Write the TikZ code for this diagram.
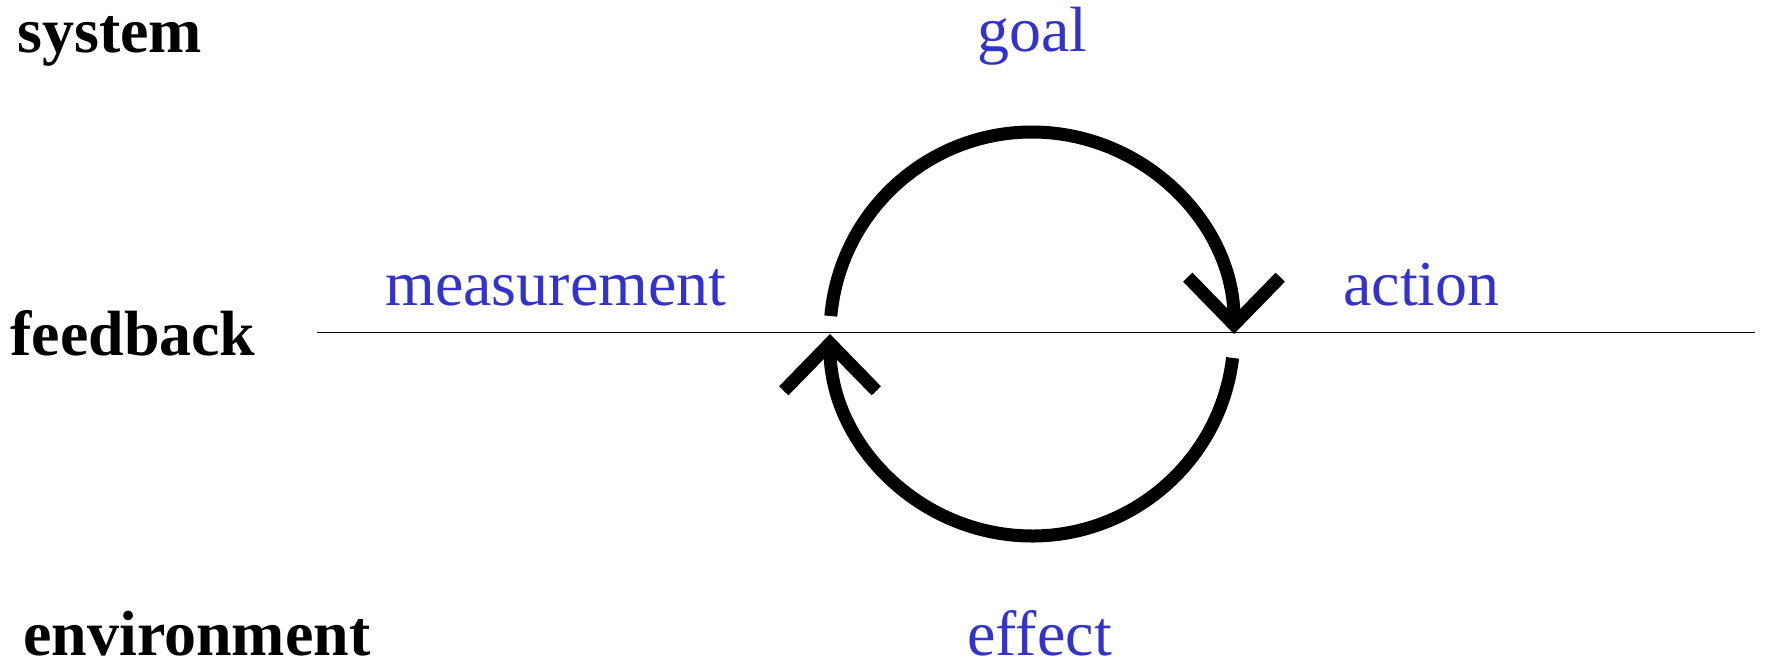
\documentclass[tikz,border=0pt]{standalone}
\usepackage{fontspec}
\setmainfont{Liberation Serif}
\usetikzlibrary{arrows.meta,positioning}
\definecolor{ink}{HTML}{000000}
\definecolor{labelblue}{HTML}{3333CC}

\begin{document}
\begin{tikzpicture}[
  level/.style={anchor=base west, inner sep=0pt, text=ink,
                font=\fontsize{36.4pt}{40pt}\selectfont\bfseries},
  phase/.style={anchor=base west, inner sep=0pt, text=labelblue,
                font=\fontsize{36.4pt}{40pt}\selectfont},
  axis/.style={ink, line width=1.1pt},
  loopline/.style={ink, line width=7.4pt,
                   -{Straight Barb[length=0.95cm, width=1.85cm, line cap=butt, line join=miter]}}
]
  \useasboundingbox (0,0) rectangle (35.34,13.3);

  % levels
  \node[level] (system) at (0.34,12.24) {system};
  \node[level] (feedback) at (0.20,6.20) {feedback};
  \node[level] (environment) at (0.46,0.20) {environment};

  % phases of the loop
  \node[phase] (goal) at (19.54,12.26) {goal};
  \node[phase] (meas) at (7.70,7.20) {measurement};
  \node[phase] (action) at (26.86,7.20) {action};
  \node[phase] (effect) at (19.34,0.20) {effect};

  \coordinate (axisL) at (6.34,6.65);
  \coordinate (axisR) at (35.10,6.65);
  \draw[axis] (axisL) -- (axisR);

  \coordinate (loop) at (20.64,6.62);
  \draw[loopline] ([shift={(174.9:4.04)}]loop) arc[start angle=174.9, end angle=0, radius=4.04];
  \draw[loopline] ([shift={(-6.8:4.04)}]loop) arc[start angle=-6.8, end angle=-180, radius=4.04];

\end{tikzpicture}
\end{document}
